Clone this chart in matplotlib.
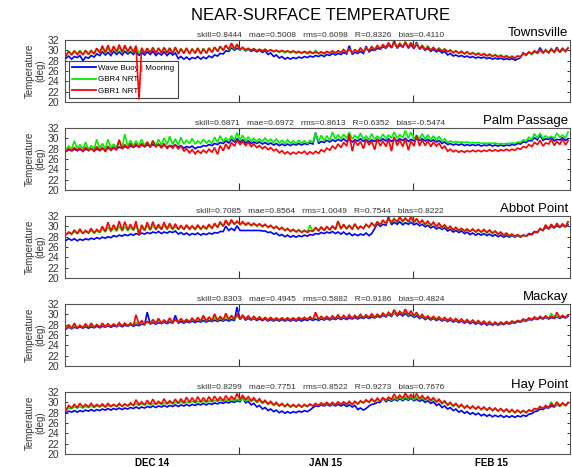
import numpy as np
import matplotlib
matplotlib.use("Agg")
import matplotlib.pyplot as plt
from matplotlib.lines import Line2D

plt.rcParams['font.family'] = ['Liberation Sans', 'DejaVu Sans']

# ---------------- data (daily low / daily high, Dec 1 2014 .. Feb 28 2015) ----------------
stations = ["Townsville", "Palm Passage", "Abbot Point", "Mackay", "Hay Point"]
series_names = ["Wave Buoy | Mooring", "GBR4 NRT", "GBR1 NRT"]
stats = [
    "skill=0.8444   mae=0.5008   rms=0.6098   R=0.8326   bias=0.4110",
    "skill=0.6871   mae=0.6972   rms=0.8613   R=0.6352   bias=-0.5474",
    "skill=0.7085   mae=0.8564   rms=1.0049   R=0.7544   bias=0.8222",
    "skill=0.8303   mae=0.4945   rms=0.5882   R=0.9186   bias=0.4824",
    "skill=0.8299   mae=0.7751   rms=0.8522   R=0.9273   bias=0.7676",
]
month_tick_days = [31, 62]
month_label_days = [15.5, 46.5, 76]
month_labels = ["DEC 14", "JAN 15", "FEB 15"]

# Townsville
tsv_obs_lo = [28.5, 28.3, 28.6, 28.0, 28.5, 28.7, 29.0, 29.1, 29.0, 29.2,
              29.1, 29.3, 29.2, 29.0, 29.1, 29.2, 29.0, 29.1, 29.0, 29.1,
              28.4, 28.3, 28.2, 28.4, 28.3, 28.4, 28.6, 28.9, 29.3, 29.8,
              30.0, 30.1, 29.9, 29.8, 29.7, 29.6, 29.2, 28.8, 28.5, 28.3,
              28.3, 28.4, 28.5, 28.6, 28.7, 28.8, 28.8, 29.0, 29.1, 29.2,
              29.3, 29.2, 29.4, 29.4, 29.7, 30.0, 30.2, 30.4, 30.5, 30.4,
              30.6, 30.4, 30.3, 30.2, 30.0, 29.8, 29.7, 29.5, 29.1, 28.9,
              28.8, 28.7, 28.6, 28.5, 28.5, 28.4, 28.3, 28.3, 28.2, 28.2,
              28.1, 28.6, 29.1, 29.3, 29.5, 29.6, 29.5, 29.7, 29.6, 29.8]
tsv_obs_hi = [28.9, 28.8, 29.0, 28.7, 29.0, 29.3, 29.7, 29.6, 29.8, 29.7,
              29.8, 29.7, 29.9, 29.6, 29.7, 29.8, 29.5, 29.7, 29.6, 29.5,
              28.8, 28.7, 28.6, 28.8, 28.7, 28.9, 29.1, 29.4, 29.9, 30.5,
              30.4, 30.4, 30.2, 30.1, 30.0, 29.9, 29.5, 29.1, 28.8, 28.6,
              28.6, 28.7, 28.8, 28.9, 29.0, 29.1, 29.2, 29.4, 29.4, 29.6,
              30.9, 29.6, 29.8, 30.8, 30.1, 30.4, 30.7, 31.0, 31.8, 31.0,
              31.5, 31.1, 31.6, 30.7, 30.4, 30.2, 30.0, 29.8, 29.4, 29.1,
              29.0, 28.9, 28.8, 28.7, 28.7, 28.6, 28.5, 28.5, 28.4, 28.4,
              28.3, 29.5, 29.6, 29.8, 30.5, 30.0, 30.3, 30.6, 30.2, 30.5]
tsv_g4_lo = [29.0, 29.2, 29.3, 29.2, 29.3, 29.4, 29.5, 29.4, 29.5, 29.6,
             29.5, 29.6, 29.5, 29.4, 29.5, 29.6, 29.5, 29.5, 29.6, 29.5,
             29.4, 29.5, 29.4, 29.5, 29.4, 29.5, 29.7, 29.8, 30.0, 30.1,
             30.2, 30.1, 30.0, 30.0, 29.9, 29.9, 29.8, 29.7, 29.6, 29.5,
             29.5, 29.4, 29.4, 29.3, 29.4, 29.3, 29.3, 29.4, 29.4, 29.6,
             29.6, 29.5, 29.7, 29.8, 30.0, 30.2, 30.3, 30.5, 30.6, 30.6,
             30.7, 30.6, 30.5, 30.3, 30.2, 30.1, 30.0, 29.9, 29.8, 29.6,
             29.5, 29.4, 29.3, 29.2, 29.1, 29.0, 28.9, 28.8, 28.7, 28.6,
             28.5, 28.7, 29.0, 29.2, 29.4, 29.5, 29.6, 29.7, 29.6, 29.8]
tsv_g4_hi = [29.8, 29.9, 30.0, 29.9, 30.0, 30.3, 30.5, 30.4, 30.6, 30.5,
             30.7, 30.6, 30.8, 30.2, 30.4, 30.6, 30.5, 30.6, 30.5, 30.6,
             30.4, 30.5, 30.3, 30.5, 30.4, 30.5, 30.6, 30.7, 30.9, 30.8,
             31.0, 30.4, 30.3, 30.3, 30.2, 30.2, 30.1, 30.0, 29.9, 29.8,
             29.8, 29.7, 29.7, 29.6, 30.0, 29.7, 29.7, 29.8, 29.9, 30.2,
             30.3, 30.1, 30.4, 30.5, 30.7, 30.9, 31.0, 31.3, 31.5, 31.4,
             31.7, 31.5, 31.4, 31.0, 30.8, 30.6, 30.5, 30.3, 30.1, 29.9,
             29.8, 29.7, 29.6, 29.5, 29.4, 29.3, 29.2, 29.1, 29.0, 28.9,
             28.9, 29.3, 29.6, 29.9, 30.1, 30.2, 30.3, 30.4, 30.3, 30.5]
tsv_g1_lo = [29.0, 29.1, 29.2, 29.1, 29.2, 29.3, 29.5, 29.6, 29.5, 29.7,
             29.6, 29.7, 29.6, 20.5, 29.4, 29.5, 29.4, 29.5, 29.5, 29.4,
             29.3, 29.4, 29.3, 29.4, 29.3, 29.4, 29.6, 29.8, 30.0, 30.2,
             30.3, 30.2, 30.1, 30.0, 29.9, 29.9, 29.8, 29.8, 29.7, 29.7,
             29.6, 29.6, 29.5, 29.5, 29.4, 29.4, 29.4, 29.5, 29.5, 29.6,
             29.6, 29.5, 29.7, 29.7, 29.9, 30.1, 30.3, 30.5, 30.5, 30.6,
             30.6, 30.5, 30.4, 30.3, 30.1, 30.0, 29.9, 29.8, 29.7, 29.5,
             29.4, 29.3, 29.2, 29.1, 29.0, 28.9, 28.8, 28.7, 28.6, 28.5,
             28.5, 28.8, 29.1, 29.3, 29.5, 29.5, 29.6, 29.6, 29.7, 29.8]
tsv_g1_hi = [29.8, 29.9, 29.8, 30.0, 29.9, 30.4, 30.9, 31.0, 30.8, 31.1,
             31.0, 30.8, 30.9, 30.5, 30.4, 30.5, 30.4, 30.5, 30.4, 30.6,
             30.3, 30.4, 30.3, 30.4, 30.3, 30.4, 30.6, 30.8, 31.0, 31.4,
             31.2, 30.6, 30.4, 30.3, 30.2, 30.2, 30.1, 30.0, 30.0, 29.9,
             29.9, 29.8, 29.8, 29.8, 29.7, 29.7, 29.8, 29.9, 29.9, 30.1,
             30.3, 30.1, 30.5, 30.4, 30.7, 30.9, 31.1, 31.5, 31.6, 31.3,
             31.6, 31.5, 31.2, 30.9, 30.7, 30.5, 30.3, 30.2, 30.0, 29.9,
             29.8, 29.7, 29.5, 29.4, 29.3, 29.2, 29.1, 29.0, 28.9, 28.8,
             28.9, 29.4, 29.7, 29.9, 30.1, 30.0, 30.2, 30.3, 30.4, 30.4]

# Palm Passage
plm_obs_lo = [27.5, 27.6, 27.6, 27.5, 27.7, 27.6, 27.7, 27.8, 27.9, 28.0,
              28.1, 28.2, 28.3, 28.4, 28.4, 28.5, 28.5, 28.4, 28.3, 28.4,
              28.3, 28.1, 28.2, 28.0, 28.3, 28.5, 28.6, 28.8, 29.0, 29.1,
              29.3, 29.3, 29.1, 29.0, 29.0, 28.9, 28.8, 28.7, 28.6, 28.6,
              28.6, 28.7, 28.7, 28.8, 28.9, 29.0, 29.2, 29.3, 29.4, 29.5,
              29.4, 29.3, 29.5, 29.4, 29.3, 29.4, 29.5, 29.5, 29.4, 29.5,
              29.6, 29.4, 29.5, 29.6, 29.5, 29.4, 29.3, 29.0, 28.8, 28.7,
              28.7, 28.6, 28.6, 28.6, 28.5, 28.6, 28.5, 28.5, 28.5, 28.6,
              28.7, 28.9, 29.2, 29.5, 29.7, 29.6, 29.8, 29.5, 29.7, 29.6]
plm_obs_hi = [27.8, 27.9, 27.9, 27.9, 28.0, 27.9, 28.0, 28.1, 28.2, 28.3,
              28.4, 28.5, 28.6, 28.7, 28.7, 28.8, 28.8, 28.7, 28.6, 28.7,
              28.6, 28.4, 28.5, 28.3, 28.6, 28.8, 29.0, 29.2, 29.5, 29.8,
              29.9, 29.7, 29.5, 29.3, 29.3, 29.2, 29.1, 29.0, 28.9, 28.9,
              28.9, 29.0, 29.0, 29.1, 31.1, 29.4, 29.6, 29.7, 29.8, 29.9,
              29.8, 29.7, 29.9, 29.8, 29.7, 29.8, 29.9, 29.9, 29.8, 29.9,
              30.0, 29.8, 29.9, 29.9, 29.8, 29.7, 29.6, 29.3, 29.0, 28.9,
              28.9, 28.8, 28.8, 28.8, 28.7, 28.8, 28.7, 28.7, 28.7, 28.8,
              29.0, 29.3, 29.6, 30.1, 30.6, 29.9, 30.2, 29.8, 30.1, 29.9]
plm_g4_lo = [27.8, 27.9, 28.0, 27.9, 27.8, 27.9, 28.0, 27.9, 28.1, 28.2,
             28.3, 28.4, 28.5, 28.6, 28.6, 28.5, 28.6, 28.7, 28.8, 28.8,
             28.7, 28.9, 29.0, 28.9, 29.0, 29.1, 29.0, 29.2, 29.3, 29.4,
             29.6, 29.6, 29.5, 29.4, 29.3, 29.4, 29.3, 29.2, 29.1, 29.0,
             29.0, 29.0, 29.1, 29.0, 29.2, 29.3, 29.5, 29.6, 29.8, 29.9,
             30.0, 29.8, 29.9, 29.8, 29.7, 29.8, 29.9, 30.0, 30.1, 30.0,
             30.1, 30.0, 29.8, 29.9, 29.8, 29.7, 29.6, 29.4, 29.2, 29.2,
             29.2, 29.2, 29.1, 29.1, 29.0, 29.0, 29.0, 28.9, 28.9, 29.0,
             29.0, 29.2, 29.5, 29.8, 30.0, 29.9, 30.1, 30.0, 30.2, 30.1]
plm_g4_hi = [28.5, 29.5, 28.8, 29.3, 28.6, 29.8, 29.0, 29.8, 28.9, 29.7,
             30.8, 29.6, 29.5, 29.8, 29.3, 29.6, 29.8, 30.1, 30.4, 29.9,
             30.2, 29.6, 30.0, 29.5, 29.8, 29.6, 30.2, 30.5, 30.1, 30.5,
             31.1, 30.6, 30.3, 30.0, 29.9, 30.1, 29.8, 29.9, 29.6, 29.7,
             29.5, 29.6, 29.5, 29.6, 31.0, 30.6, 30.5, 31.2, 30.7, 30.8,
             31.2, 30.6, 31.0, 30.5, 30.9, 30.4, 30.8, 30.6, 31.2, 30.7,
             31.5, 31.2, 30.6, 30.9, 30.7, 30.5, 30.4, 29.9, 29.5, 29.4,
             29.3, 29.3, 29.2, 29.2, 29.1, 29.1, 29.1, 29.0, 29.0, 29.1,
             29.3, 29.7, 30.2, 30.9, 31.0, 30.5, 30.4, 31.0, 30.6, 31.2]
plm_g1_lo = [27.5, 27.6, 27.7, 27.5, 27.6, 27.5, 27.6, 27.4, 27.6, 27.7,
             27.9, 28.0, 28.2, 28.2, 28.3, 28.2, 28.3, 28.1, 28.0, 28.1,
             27.9, 27.5, 27.2, 27.0, 27.1, 27.2, 27.3, 26.9, 27.6, 27.9,
             28.5, 28.8, 28.6, 28.4, 28.2, 28.0, 27.8, 27.6, 27.2, 27.0,
             26.9, 27.0, 27.1, 26.9, 27.0, 27.1, 27.4, 27.7, 28.0, 28.2,
             28.5, 27.5, 28.6, 28.0, 28.7, 27.8, 28.5, 28.4, 27.5, 28.6,
             28.4, 27.7, 28.5, 28.5, 28.6, 28.4, 28.5, 28.0, 27.5, 27.4,
             27.3, 27.3, 27.4, 27.4, 27.4, 27.5, 27.5, 27.5, 27.6, 27.6,
             27.7, 27.9, 28.2, 28.4, 28.8, 28.5, 28.9, 28.6, 28.8, 28.7]
plm_g1_hi = [28.0, 28.2, 28.1, 28.3, 28.0, 28.4, 28.2, 28.5, 28.3, 29.7,
             28.8, 29.0, 28.9, 29.0, 29.3, 29.5, 28.9, 29.0, 28.6, 28.8,
             28.6, 28.0, 27.8, 27.6, 27.7, 27.9, 28.2, 28.6, 28.9, 29.2,
             29.6, 29.4, 29.2, 28.9, 28.6, 28.4, 28.2, 27.9, 27.6, 27.4,
             27.3, 27.4, 27.5, 27.4, 27.5, 27.8, 28.1, 28.5, 28.9, 29.2,
             30.8, 29.6, 29.4, 29.8, 29.5, 29.9, 29.5, 29.8, 30.3, 29.7,
             29.9, 29.5, 30.6, 29.7, 29.5, 29.3, 29.1, 28.5, 27.9, 27.7,
             27.6, 27.6, 27.7, 27.7, 27.7, 27.8, 27.8, 27.8, 27.9, 27.9,
             28.1, 28.4, 28.8, 29.2, 29.6, 29.1, 29.8, 29.4, 29.9, 29.5]

# Abbot Point
abt_obs_lo = [27.3, 27.3, 27.2, 27.3, 27.4, 27.5, 27.6, 27.7, 27.8, 28.0,
              28.1, 28.2, 28.3, 28.4, 28.5, 28.6, 28.7, 28.6, 28.7, 28.8,
              28.5, 28.4, 28.3, 28.4, 28.3, 28.4, 28.5, 28.7, 29.0, 29.2,
              29.2, 29.2, 29.2, 29.2, 29.2, 29.1, 28.8, 28.5, 28.2, 28.0,
              27.9, 27.9, 28.0, 28.1, 28.3, 28.5, 28.6, 28.7, 28.6, 28.5,
              28.4, 28.2, 28.2, 28.3, 28.2, 29.6, 30.0, 30.2, 30.3, 30.4,
              30.3, 30.4, 30.3, 30.1, 29.9, 29.7, 29.5, 29.4, 29.1, 28.9,
              28.8, 28.6, 28.4, 28.3, 28.3, 28.2, 28.1, 28.0, 27.9, 27.9,
              27.9, 27.9, 28.1, 28.5, 28.9, 29.3, 29.5, 29.7, 29.8, 29.9]
abt_obs_hi = [27.6, 27.6, 27.5, 27.6, 27.7, 27.8, 27.9, 28.0, 28.2, 28.3,
              28.4, 28.5, 28.6, 28.7, 28.8, 28.9, 29.0, 28.9, 29.0, 29.1,
              28.8, 28.7, 28.6, 28.7, 28.6, 28.7, 28.8, 29.0, 30.0, 29.6,
              30.1, 29.2, 29.2, 29.2, 29.2, 29.1, 28.9, 28.7, 28.4, 28.3,
              28.2, 28.2, 28.3, 28.4, 28.6, 28.8, 28.9, 29.0, 28.9, 28.9,
              28.7, 28.5, 28.5, 28.7, 28.6, 30.5, 30.4, 31.8, 30.8, 30.9,
              30.7, 30.8, 30.6, 30.4, 30.2, 30.0, 29.8, 29.7, 29.4, 29.2,
              29.1, 28.9, 28.7, 28.6, 28.6, 28.5, 28.4, 28.3, 28.2, 28.2,
              28.2, 28.3, 28.6, 29.0, 29.4, 29.8, 30.0, 30.1, 30.2, 30.3]
abt_g4_lo = [28.4, 28.5, 28.6, 28.6, 28.7, 28.7, 28.8, 28.9, 29.0, 29.1,
             29.1, 29.2, 29.2, 28.9, 29.2, 29.3, 29.4, 29.4, 29.4, 29.4,
             29.4, 29.4, 29.4, 29.4, 29.4, 29.5, 29.6, 29.8, 30.0, 30.2,
             30.4, 30.3, 30.2, 30.1, 30.0, 29.9, 29.8, 29.6, 29.4, 29.2,
             29.1, 29.0, 28.9, 28.9, 29.0, 29.1, 29.2, 29.3, 29.4, 29.5,
             29.5, 29.5, 29.5, 29.6, 29.8, 30.0, 30.3, 30.5, 30.7, 30.8,
             30.9, 30.8, 30.7, 30.5, 30.3, 30.1, 29.9, 29.7, 29.5, 29.3,
             29.2, 29.1, 29.0, 28.9, 28.8, 28.7, 28.6, 28.4, 28.2, 28.1,
             28.0, 28.0, 28.1, 28.4, 28.8, 29.2, 29.5, 29.7, 29.8, 29.9]
abt_g4_hi = [28.8, 29.0, 29.1, 29.0, 29.2, 29.1, 29.5, 29.8, 29.6, 30.0,
             29.9, 29.8, 30.1, 29.8, 30.1, 30.2, 29.9, 30.2, 30.0, 30.0,
             29.9, 30.0, 29.9, 30.0, 29.9, 30.1, 30.3, 30.6, 30.9, 31.0,
             30.9, 30.7, 30.6, 30.5, 30.4, 30.3, 30.1, 29.9, 29.7, 29.5,
             29.4, 29.3, 29.2, 30.2, 29.7, 29.8, 29.9, 30.0, 31.0, 30.3,
             30.2, 30.4, 30.0, 30.3, 30.6, 30.8, 31.1, 31.4, 31.6, 31.7,
             31.5, 31.7, 31.4, 31.1, 30.9, 30.7, 30.5, 30.2, 29.9, 29.7,
             29.5, 29.4, 29.4, 29.3, 29.3, 29.2, 29.0, 28.8, 28.6, 28.4,
             28.3, 28.2, 28.4, 28.8, 29.5, 30.2, 30.3, 30.5, 30.4, 30.8]
abt_g1_lo = [28.4, 28.5, 28.6, 28.6, 28.7, 28.7, 28.9, 29.0, 29.1, 29.2,
             29.2, 29.3, 29.3, 28.2, 29.2, 29.3, 29.4, 29.4, 29.5, 29.4,
             29.4, 29.4, 29.5, 29.4, 29.5, 29.5, 29.6, 29.8, 30.0, 30.2,
             30.4, 30.4, 30.3, 30.2, 30.1, 30.0, 29.8, 29.6, 29.4, 29.2,
             29.0, 28.9, 28.8, 28.8, 29.0, 29.1, 29.2, 29.3, 29.4, 29.5,
             29.5, 29.4, 29.5, 29.6, 29.8, 30.0, 30.3, 30.6, 30.8, 30.9,
             31.0, 30.9, 30.8, 30.6, 30.4, 30.2, 30.0, 29.8, 29.5, 29.3,
             29.2, 29.1, 29.0, 28.9, 28.9, 28.8, 28.7, 28.5, 28.3, 28.2,
             28.1, 28.0, 28.1, 28.4, 28.8, 29.2, 29.5, 29.7, 29.8, 29.9]
abt_g1_hi = [28.9, 29.3, 29.5, 29.2, 29.6, 29.4, 30.0, 30.8, 30.3, 31.0,
             30.9, 30.4, 31.0, 30.3, 30.8, 30.9, 30.4, 30.8, 30.6, 30.5,
             30.2, 30.3, 30.1, 30.3, 30.1, 30.4, 30.6, 30.9, 31.2, 31.3,
             31.0, 30.9, 30.7, 30.6, 30.5, 30.4, 30.2, 30.0, 29.8, 29.6,
             29.4, 29.3, 29.2, 29.2, 29.8, 29.9, 30.0, 30.1, 31.0, 30.4,
             30.2, 30.5, 30.0, 30.4, 30.7, 30.9, 31.2, 31.5, 31.4, 31.8,
             31.6, 31.8, 31.5, 31.2, 31.0, 30.8, 30.6, 30.3, 30.0, 29.8,
             29.6, 29.5, 29.5, 29.4, 29.4, 29.3, 29.1, 28.9, 28.7, 28.5,
             28.4, 28.3, 28.5, 28.9, 29.6, 30.3, 30.4, 30.6, 30.5, 30.9]

# Mackay
mky_obs_lo = [27.2, 27.2, 27.3, 27.3, 27.3, 27.4, 27.4, 27.5, 27.5, 27.6,
              27.6, 27.7, 27.7, 27.8, 28.0, 28.1, 28.1, 28.2, 28.2, 28.3,
              28.3, 28.3, 28.4, 28.4, 28.5, 28.5, 28.6, 28.6, 28.7, 28.7,
              28.8, 29.0, 28.9, 28.9, 28.8, 28.8, 28.7, 28.7, 28.7, 28.7,
              28.7, 28.7, 28.7, 28.8, 28.8, 28.8, 28.9, 28.9, 29.0, 29.0,
              29.0, 29.1, 29.1, 29.2, 29.2, 29.3, 29.4, 29.5, 29.6, 29.7,
              29.7, 29.6, 29.4, 29.2, 29.0, 28.9, 28.8, 28.7, 28.6, 28.5,
              28.4, 28.3, 28.2, 28.1, 28.0, 27.9, 27.9, 27.9, 28.0, 28.1,
              28.3, 28.5, 28.7, 28.9, 29.0, 29.1, 29.1, 29.2, 29.2, 29.3]
mky_obs_hi = [27.5, 27.5, 27.6, 27.6, 27.6, 27.7, 27.7, 27.8, 27.8, 27.9,
              27.9, 28.0, 28.0, 28.1, 30.4, 28.4, 28.4, 28.5, 28.5, 29.8,
              28.6, 28.6, 28.7, 28.7, 28.8, 28.8, 28.9, 28.9, 29.0, 29.0,
              31.4, 29.5, 29.2, 29.2, 29.1, 29.1, 29.0, 29.0, 29.0, 29.0,
              29.0, 29.0, 29.0, 29.1, 29.1, 29.1, 29.2, 29.2, 29.3, 29.3,
              29.3, 29.4, 29.4, 29.5, 29.5, 29.6, 29.8, 30.0, 30.4, 30.1,
              30.2, 29.9, 29.7, 29.5, 29.3, 29.2, 29.1, 29.0, 28.9, 28.8,
              28.7, 28.6, 28.5, 28.4, 28.3, 28.2, 28.2, 28.2, 28.3, 28.4,
              28.6, 28.8, 29.0, 29.2, 29.3, 29.4, 29.4, 29.5, 29.5, 29.6]
mky_g4_lo = [27.3, 27.3, 27.4, 27.4, 27.5, 27.5, 27.6, 27.6, 27.7, 27.7,
             27.8, 27.8, 27.9, 28.0, 28.1, 28.2, 28.3, 28.3, 28.4, 28.4,
             28.5, 28.5, 28.6, 28.6, 28.7, 28.7, 28.8, 28.8, 28.9, 29.0,
             29.0, 29.1, 29.1, 29.0, 29.0, 29.0, 28.9, 28.9, 28.9, 28.9,
             28.9, 28.9, 29.0, 29.0, 29.0, 29.0, 29.1, 29.1, 29.2, 29.2,
             29.2, 29.2, 29.3, 29.3, 29.4, 29.4, 29.5, 29.6, 29.8, 29.9,
             30.0, 29.8, 29.6, 29.4, 29.2, 29.1, 29.0, 28.9, 28.8, 28.7,
             28.6, 28.5, 28.4, 28.3, 28.2, 28.1, 28.0, 28.0, 28.1, 28.2,
             28.4, 28.6, 28.8, 29.0, 29.1, 29.2, 29.2, 29.3, 29.3, 29.4]
mky_g4_hi = [27.7, 27.8, 27.8, 27.9, 27.9, 28.0, 28.0, 28.0, 28.1, 28.1,
             28.2, 28.2, 28.4, 28.5, 28.6, 28.7, 28.8, 28.8, 28.9, 28.9,
             29.0, 29.0, 29.1, 29.1, 29.3, 29.2, 29.5, 29.3, 29.6, 29.5,
             29.7, 29.6, 29.5, 29.4, 29.4, 29.3, 29.3, 29.3, 29.3, 29.3,
             29.3, 29.3, 29.4, 29.4, 30.0, 29.4, 29.5, 29.5, 29.6, 29.6,
             29.7, 29.7, 29.8, 29.8, 29.9, 29.9, 30.1, 30.2, 30.5, 30.4,
             30.6, 30.3, 30.1, 29.8, 29.5, 29.4, 29.3, 29.2, 29.1, 29.0,
             28.9, 28.8, 28.7, 28.6, 28.5, 28.4, 28.4, 28.4, 28.5, 28.6,
             28.8, 29.0, 29.2, 29.4, 29.5, 29.6, 30.2, 29.7, 29.7, 29.8]
mky_g1_lo = [27.2, 27.3, 27.3, 27.4, 27.4, 27.5, 27.5, 27.6, 27.6, 27.7,
             27.7, 27.8, 27.8, 28.0, 28.1, 28.2, 28.3, 28.3, 28.4, 28.4,
             28.4, 28.5, 28.5, 28.6, 28.7, 28.7, 28.8, 28.8, 28.9, 29.0,
             29.0, 29.1, 29.1, 29.0, 29.0, 28.9, 28.9, 28.9, 28.9, 28.9,
             28.9, 28.9, 29.0, 29.0, 29.0, 29.0, 29.1, 29.1, 29.2, 29.2,
             29.2, 29.2, 29.3, 29.3, 29.4, 29.4, 29.5, 29.6, 29.8, 29.9,
             30.0, 29.9, 29.7, 29.4, 29.2, 29.1, 29.0, 28.9, 28.8, 28.7,
             28.6, 28.5, 28.4, 28.3, 28.2, 28.1, 28.0, 28.0, 28.1, 28.2,
             28.4, 28.6, 28.8, 29.0, 29.1, 29.2, 29.2, 29.3, 29.3, 29.4]
mky_g1_hi = [28.0, 28.3, 27.9, 28.2, 28.3, 28.0, 28.3, 28.2, 28.1, 28.4,
             28.3, 28.3, 29.9, 28.8, 28.6, 29.0, 29.2, 28.9, 29.3, 29.0,
             29.2, 29.0, 29.3, 29.4, 29.8, 29.5, 30.1, 29.6, 30.2, 29.8,
             30.1, 29.9, 29.7, 29.6, 29.5, 29.4, 29.4, 29.3, 29.3, 29.3,
             29.3, 29.4, 29.4, 29.5, 30.4, 29.6, 29.6, 29.7, 29.9, 29.8,
             29.9, 29.8, 30.0, 29.9, 30.1, 30.0, 30.3, 30.4, 30.9, 30.6,
             31.0, 30.7, 30.4, 30.0, 29.7, 29.6, 29.5, 29.4, 29.3, 29.2,
             29.1, 29.0, 28.9, 28.8, 28.7, 28.6, 28.5, 28.5, 28.6, 28.7,
             28.8, 29.1, 29.3, 29.5, 29.6, 29.7, 29.6, 30.4, 29.8, 29.9]

# Hay Point
hay_obs_lo = [28.0, 28.1, 28.1, 28.2, 28.3, 28.3, 28.4, 28.5, 28.5, 28.6,
              28.6, 28.7, 28.8, 28.8, 28.9, 29.0, 29.0, 29.1, 29.1, 29.2,
              29.2, 29.3, 29.3, 29.4, 29.5, 29.5, 29.6, 29.7, 29.8, 29.9,
              30.0, 30.1, 29.9, 29.5, 29.1, 28.7, 28.4, 28.2, 28.0, 27.9,
              27.9, 28.0, 28.1, 28.2, 29.0, 29.2, 29.3, 29.3, 29.3, 29.3,
              29.2, 29.1, 28.6, 28.5, 29.3, 29.7, 30.0, 30.1, 30.2, 30.3,
              30.3, 30.4, 30.3, 30.2, 30.0, 29.8, 29.4, 29.0, 28.7, 28.4,
              28.1, 27.9, 27.7, 27.6, 27.4, 27.3, 27.2, 27.2, 27.1, 27.1,
              27.1, 27.2, 27.3, 27.8, 28.3, 28.6, 28.9, 29.1, 29.3, 29.4]
hay_obs_hi = [28.3, 28.4, 28.4, 28.5, 28.6, 28.6, 28.7, 28.8, 28.8, 28.9,
              28.9, 29.0, 29.1, 29.1, 29.2, 29.3, 29.3, 29.4, 29.4, 29.5,
              29.5, 29.6, 29.6, 29.7, 29.8, 29.8, 29.9, 30.0, 30.1, 30.2,
              30.3, 30.9, 30.2, 29.8, 29.4, 29.0, 28.7, 28.5, 28.3, 28.2,
              28.2, 28.3, 28.4, 28.5, 29.3, 29.5, 29.6, 29.6, 29.6, 29.6,
              29.5, 29.4, 28.9, 28.8, 29.6, 30.0, 30.8, 30.5, 30.6, 30.7,
              30.7, 30.8, 30.6, 30.5, 30.3, 30.1, 29.7, 29.3, 29.0, 28.7,
              28.4, 28.2, 28.0, 27.9, 27.7, 27.6, 27.5, 27.5, 27.4, 27.4,
              27.4, 27.5, 27.7, 28.2, 28.7, 29.0, 29.3, 29.5, 29.7, 29.8]
hay_g4_lo = [28.6, 28.8, 28.9, 28.9, 29.0, 29.0, 29.1, 29.1, 29.2, 29.2,
             29.3, 29.3, 29.4, 29.4, 29.5, 29.5, 29.6, 29.6, 29.7, 29.7,
             29.8, 29.8, 29.9, 29.9, 30.0, 30.0, 30.1, 30.2, 30.2, 30.3,
             30.3, 30.4, 30.3, 30.2, 30.0, 29.8, 29.6, 29.4, 29.3, 29.2,
             29.1, 29.1, 29.1, 29.2, 29.3, 29.4, 29.5, 29.5, 29.5, 29.6,
             29.6, 29.6, 29.7, 29.9, 30.0, 30.1, 30.2, 30.3, 30.4, 30.5,
             30.5, 30.6, 30.5, 30.5, 30.4, 30.2, 30.0, 29.7, 29.4, 29.2,
             29.0, 28.9, 28.8, 28.7, 28.6, 28.5, 28.4, 28.3, 28.2, 28.1,
             28.0, 28.0, 28.0, 28.3, 28.6, 28.8, 29.0, 29.2, 29.3, 29.4]
hay_g4_hi = [28.9, 29.1, 29.2, 29.2, 29.3, 29.3, 29.4, 29.4, 29.5, 29.5,
             29.6, 29.6, 29.7, 29.7, 29.8, 29.8, 29.9, 29.9, 30.0, 30.0,
             30.1, 30.1, 30.2, 30.2, 30.3, 30.3, 30.4, 30.5, 30.5, 30.6,
             30.6, 30.7, 30.6, 30.5, 30.3, 30.1, 29.9, 29.7, 29.6, 29.5,
             29.4, 29.4, 29.4, 29.5, 29.6, 29.7, 29.8, 29.8, 29.9, 30.0,
             30.0, 30.0, 30.1, 30.3, 30.5, 30.6, 30.7, 30.8, 30.9, 31.0,
             31.1, 31.1, 31.0, 30.9, 30.8, 30.6, 30.4, 30.1, 29.8, 29.6,
             29.4, 29.3, 29.2, 29.1, 29.0, 28.9, 28.8, 28.7, 28.6, 28.5,
             28.4, 28.4, 28.5, 28.8, 29.1, 29.3, 30.1, 29.6, 29.7, 29.8]
hay_g1_lo = [28.5, 28.9, 29.0, 29.1, 29.1, 29.1, 29.2, 29.1, 29.2, 29.2,
             29.2, 29.3, 29.4, 29.5, 29.5, 29.6, 29.6, 29.7, 29.7, 29.8,
             29.8, 29.9, 30.0, 30.0, 30.1, 30.1, 30.2, 30.3, 30.3, 30.4,
             30.5, 30.6, 30.5, 30.3, 30.1, 29.9, 29.7, 29.5, 29.3, 29.2,
             29.1, 29.1, 29.1, 29.2, 29.3, 29.4, 29.5, 29.5, 29.5, 29.6,
             29.6, 29.6, 29.7, 29.9, 30.0, 30.1, 30.2, 30.4, 30.6, 30.7,
             30.8, 30.8, 30.8, 30.7, 30.6, 30.4, 30.1, 29.8, 29.5, 29.3,
             29.1, 28.9, 28.8, 28.7, 28.6, 28.5, 28.4, 28.3, 28.2, 28.1,
             28.0, 28.0, 28.0, 28.3, 28.6, 28.8, 29.0, 29.2, 29.3, 29.4]
hay_g1_hi = [29.4, 29.6, 29.8, 29.6, 29.8, 29.6, 29.7, 29.8, 29.6, 29.8,
             29.7, 29.9, 30.5, 30.1, 30.4, 30.6, 30.2, 30.7, 30.3, 30.6,
             30.7, 31.0, 30.9, 31.1, 30.9, 31.1, 31.2, 31.0, 31.3, 31.2,
             31.7, 31.4, 31.1, 30.9, 30.7, 30.4, 30.2, 30.0, 29.8, 29.7,
             29.6, 29.6, 29.6, 29.7, 29.8, 29.9, 30.0, 30.0, 30.1, 30.1,
             30.2, 30.2, 30.3, 30.5, 30.7, 30.8, 30.9, 31.0, 31.6, 31.4,
             31.8, 31.5, 31.7, 31.3, 31.1, 30.9, 30.6, 30.3, 30.0, 29.8,
             29.6, 29.4, 29.3, 29.2, 29.1, 29.0, 28.9, 28.8, 28.7, 28.6,
             28.5, 28.4, 28.5, 28.8, 29.2, 29.4, 29.7, 30.1, 29.9, 30.0]

panels = [
    (tsv_obs_lo, tsv_obs_hi, tsv_g4_lo, tsv_g4_hi, tsv_g1_lo, tsv_g1_hi),
    (plm_obs_lo, plm_obs_hi, plm_g4_lo, plm_g4_hi, plm_g1_lo, plm_g1_hi),
    (abt_obs_lo, abt_obs_hi, abt_g4_lo, abt_g4_hi, abt_g1_lo, abt_g1_hi),
    (mky_obs_lo, mky_obs_hi, mky_g4_lo, mky_g4_hi, mky_g1_lo, mky_g1_hi),
    (hay_obs_lo, hay_obs_hi, hay_g4_lo, hay_g4_hi, hay_g1_lo, hay_g1_hi),
]

colors = ["#0000ff", "#00ee00", "#ff0000"]

# ---------------- figure ----------------
W, H = 572, 467
fig = plt.figure(figsize=(W / 100, H / 100), dpi=100)
fig.patch.set_facecolor("white")

ax_left = 65 / W
ax_width = 505 / W
ax_h = 62 / H
tops = [40, 128, 216, 304, 392]

days = np.arange(90)


def interleave(lo, hi):
    t = np.column_stack([days + 0.2, days + 0.65]).ravel()
    v = np.column_stack([lo, hi]).ravel()
    return t, v


axes = []
for i, (name, st, data) in enumerate(zip(stations, stats, panels)):
    bottom = 1 - (tops[i] + 62) / H
    ax = fig.add_axes([ax_left, bottom, ax_width, ax_h])
    axes.append(ax)
    for k in range(3):
        t, v = interleave(data[2 * k], data[2 * k + 1])
        ax.plot(t, v, color=colors[k], lw=1.2, zorder=3 + k,
                solid_joinstyle='miter')
    ax.set_xlim(0, 90)
    ax.set_ylim(20, 32)
    ax.set_yticks(np.arange(20, 33, 2))
    ax.set_xticks(month_tick_days)
    ax.set_xticklabels([])
    ax.set_xticks(month_label_days, minor=True)
    if i == 4:
        ax.set_xticklabels(month_labels, minor=True, fontsize=7,
                           fontweight='bold')
    else:
        ax.set_xticklabels([], minor=True)
    ax.tick_params(axis='x', which='major', direction='in', length=5,
                   top=True, bottom=True, width=0.8, color='#333333')
    ax.tick_params(axis='x', which='minor', length=0, pad=3)
    ax.tick_params(axis='y', direction='in', length=2.5, left=True,
                   right=True, labelsize=7.5, labelcolor='#333333',
                   color='#333333', pad=4, width=0.7)
    for sp in ax.spines.values():
        sp.set_color('#555555')
        sp.set_linewidth(0.8)
    ax.text(-0.06, 0.5, "Temperature\n(deg)", transform=ax.transAxes,
            rotation=90, ha='center', va='center', fontsize=7,
            color='#333333', multialignment='center', linespacing=1.1)
    ax.annotate(st, xy=(0.5, 1.0), xycoords='axes fraction',
                xytext=(2, 2.5), textcoords='offset points',
                ha='center', va='baseline', fontsize=6, color='#333333')
    ax.annotate(name, xy=(1.0, 1.0), xycoords='axes fraction',
                xytext=(-1, 3), textcoords='offset points',
                ha='right', va='baseline', fontsize=9.5, color='black')

handles = [Line2D([], [], color=c, lw=1.3) for c in colors]
leg = axes[0].legend(handles, series_names, loc='lower left',
                     bbox_to_anchor=(0.008, 0.06), fontsize=5.8,
                     frameon=True, fancybox=False, edgecolor='#444444',
                     framealpha=1, handlelength=2.9, handletextpad=0.35,
                     labelspacing=0.5, borderpad=0.4, borderaxespad=0)
leg.get_frame().set_linewidth(0.8)
leg.set_zorder(2.5)

fig.text(321 / W, 1 - 20 / H, "NEAR-SURFACE TEMPERATURE", ha='center',
         va='baseline', fontsize=12, color='black')

fig.savefig("out.png", dpi=100)
